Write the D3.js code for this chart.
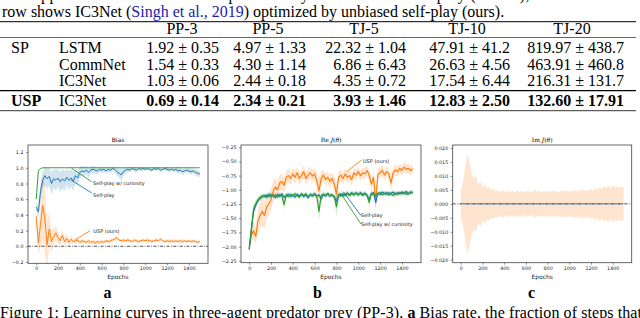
<!DOCTYPE html>
<html>
<head>
<meta charset="utf-8">
<script src="https://cdn.jsdelivr.net/npm/d3@7"></script>
<style>
  body { margin: 0; background: #fff; }
  svg { display: block; }
</style>
</head>
<body>
<script>
// ---------- table data ----------
const tableHeader = ["PP-3", "PP-5", "TJ-5", "TJ-10", "TJ-20"];
const rowGroups = ["SP", "", "", "USP"];
const rowModels = ["LSTM", "CommNet", "IC3Net", "IC3Net"];
const lstmScores = ["1.92 ± 0.35", "4.97 ± 1.33", "22.32 ± 1.04", "47.91 ± 41.2", "819.97 ± 438.7"];
const commnetScores = ["1.54 ± 0.33", "4.30 ± 1.14", "6.86 ± 6.43", "26.63 ± 4.56", "463.91 ± 460.8"];
const ic3netScores = ["1.03 ± 0.06", "2.44 ± 0.18", "4.35 ± 0.72", "17.54 ± 6.44", "216.31 ± 131.7"];
const uspScores = ["0.69 ± 0.14", "2.34 ± 0.21", "3.93 ± 1.46", "12.83 ± 2.50", "132.60 ± 17.91"];

// ---------- learning curves (every 20 epochs) ----------
const epochs = [
  0, 20, 40, 60, 80, 100, 120, 140, 160, 180,
  200, 220, 240, 260, 280, 300, 320, 340, 360, 380,
  400, 420, 440, 460, 480, 500, 520, 540, 560, 580,
  600, 620, 640, 660, 680, 700, 720, 740, 760, 780,
  800, 820, 840, 860, 880, 900, 920, 940, 960, 980,
  1000, 1020, 1040, 1060, 1080, 1100, 1120, 1140, 1160, 1180,
  1200, 1220, 1240, 1260, 1280, 1300, 1320, 1340, 1360, 1380,
  1400, 1420, 1440, 1460, 1480, 1500];
const xTicks = [0, 200, 400, 600, 800, 1000, 1200, 1400];

// a: bias
const biasSelfPlay = [
  0.50, 0.44, 0.70, 0.84, 0.90, 0.86, 0.89, 0.80, 0.86, 0.84,
  0.87, 0.82, 0.86, 0.83, 0.88, 0.84, 0.87, 0.83, 0.90, 0.87,
  0.94, 0.96, 0.95, 0.97, 0.94, 0.97, 0.98, 0.97, 0.96, 0.98,
  0.97, 0.98, 0.96, 0.98, 0.97, 0.99, 0.98, 0.95, 0.93, 0.91,
  0.95, 0.97, 0.98, 0.97, 0.99, 0.98, 0.97, 0.99, 0.98, 0.99,
  0.98, 0.99, 0.98, 0.97, 0.99, 0.98, 0.99, 0.97, 0.98, 0.99,
  0.98, 0.97, 0.98, 0.97, 0.98, 0.96, 0.97, 0.95, 0.96, 0.97,
  0.96, 0.95, 0.96, 0.94, 0.93, 0.92];
const biasSelfPlaySd = [
  0.05, 0.08, 0.12, 0.10, 0.12, 0.13, 0.12, 0.14, 0.12, 0.13,
  0.11, 0.13, 0.12, 0.13, 0.10, 0.12, 0.11, 0.13, 0.08, 0.09,
  0.08, 0.06, 0.07, 0.05, 0.07, 0.05, 0.04, 0.05, 0.04, 0.04,
  0.04, 0.03, 0.04, 0.03, 0.04, 0.03, 0.03, 0.05, 0.06, 0.07,
  0.05, 0.04, 0.03, 0.03, 0.02, 0.03, 0.03, 0.02, 0.02, 0.02,
  0.02, 0.02, 0.03, 0.02, 0.02, 0.02, 0.02, 0.03, 0.02, 0.02,
  0.03, 0.03, 0.02, 0.03, 0.03, 0.04, 0.03, 0.04, 0.03, 0.03,
  0.04, 0.04, 0.03, 0.04, 0.04, 0.04];
const biasCuriosity = [
  0.60, 0.96, 0.99, 1.00, 1.00, 1.00, 1.00, 1.00, 1.00, 1.00,
  1.00, 1.00, 1.00, 1.00, 1.00, 1.00, 1.00, 1.00, 1.00, 1.00,
  1.00, 1.00, 1.00, 1.00, 1.00, 1.00, 1.00, 1.00, 1.00, 1.00,
  1.00, 1.00, 1.00, 1.00, 1.00, 1.00, 1.00, 1.00, 1.00, 1.00,
  1.00, 1.00, 1.00, 1.00, 1.00, 1.00, 1.00, 1.00, 1.00, 1.00,
  1.00, 1.00, 1.00, 1.00, 1.00, 1.00, 1.00, 1.00, 1.00, 1.00,
  1.00, 1.00, 1.00, 1.00, 1.00, 1.00, 1.00, 1.00, 1.00, 1.00,
  1.00, 1.00, 1.00, 1.00, 1.00, 1.00];
const biasUSP = [
  0.38, 0.04, 0.28, 0.52, 0.34, 0.02, 0.22, 0.06, 0.12, 0.17,
  0.11, 0.07, 0.14, 0.06, 0.10, 0.05, 0.09, 0.06, 0.07, 0.08,
  0.05, 0.07, 0.06, 0.05, 0.07, 0.05, 0.06, 0.04, 0.06, 0.05,
  0.06, 0.05, 0.07, 0.06, 0.07, 0.08, 0.09, 0.11, 0.08, 0.07,
  0.08, 0.07, 0.08, 0.07, 0.06, 0.08, 0.07, 0.06, 0.07, 0.08,
  0.07, 0.08, 0.07, 0.06, 0.07, 0.08, 0.07, 0.09, 0.07, 0.06,
  0.07, 0.06, 0.07, 0.06, 0.07, 0.06, 0.07, 0.06, 0.07, 0.06,
  0.07, 0.06, 0.07, 0.06, 0.05, 0.06];
const biasUSPSd = [
  0.06, 0.14, 0.30, 0.42, 0.45, 0.30, 0.22, 0.15, 0.10, 0.09,
  0.08, 0.06, 0.06, 0.05, 0.05, 0.04, 0.04, 0.03, 0.03, 0.03,
  0.02, 0.03, 0.02, 0.02, 0.03, 0.02, 0.02, 0.03, 0.02, 0.02,
  0.02, 0.03, 0.02, 0.02, 0.03, 0.02, 0.03, 0.03, 0.02, 0.02,
  0.02, 0.02, 0.03, 0.02, 0.02, 0.02, 0.03, 0.02, 0.02, 0.02,
  0.02, 0.03, 0.02, 0.02, 0.02, 0.03, 0.02, 0.02, 0.02, 0.02,
  0.02, 0.02, 0.03, 0.02, 0.02, 0.02, 0.02, 0.03, 0.02, 0.02,
  0.02, 0.02, 0.02, 0.02, 0.02, 0.02];

// b: real part of J
const reSelfPlay = [
  -2.05, -1.72, -1.38, -1.27, -1.19, -1.15, -1.12, -1.10, -1.13, -1.08,
  -1.12, -1.09, -1.14, -1.08, -1.12, -1.07, -1.13, -1.10, -1.08, -1.12,
  -1.09, -1.13, -1.08, -1.11, -1.07, -1.12, -1.09, -1.14, -1.08, -1.10,
  -1.07, -1.11, -1.09, -1.16, -1.08, -1.10, -1.07, -1.11, -1.09, -1.13,
  -1.20, -1.08, -1.11, -1.07, -1.10, -1.06, -1.09, -1.05, -1.08, -1.06,
  -1.09, -1.05, -1.08, -1.06, -1.10, -1.18, -1.07, -1.05, -1.22, -1.06,
  -1.08, -1.04, -1.07, -1.05, -1.09, -1.06, -1.04, -1.08, -1.05, -1.07,
  -1.04, -1.06, -1.03, -1.07, -1.05, -1.04];
const reSelfPlaySd = [
  0.05, 0.08, 0.08, 0.06, 0.05, 0.05, 0.04, 0.04, 0.04, 0.04,
  0.04, 0.04, 0.04, 0.04, 0.04, 0.04, 0.04, 0.04, 0.04, 0.04,
  0.04, 0.04, 0.04, 0.04, 0.04, 0.04, 0.04, 0.04, 0.04, 0.04,
  0.04, 0.04, 0.04, 0.06, 0.04, 0.04, 0.04, 0.04, 0.04, 0.04,
  0.08, 0.04, 0.04, 0.04, 0.04, 0.04, 0.04, 0.04, 0.04, 0.04,
  0.04, 0.04, 0.04, 0.04, 0.04, 0.08, 0.04, 0.04, 0.10, 0.04,
  0.04, 0.04, 0.04, 0.04, 0.04, 0.04, 0.04, 0.04, 0.04, 0.04,
  0.04, 0.04, 0.04, 0.04, 0.04, 0.04];
const reCuriosity = [
  -2.05, -1.68, -1.34, -1.25, -1.18, -1.14, -1.11, -1.12, -1.09, -1.12,
  -1.08, -1.11, -1.09, -1.13, -1.08, -1.11, -1.26, -1.09, -1.12, -1.08,
  -1.11, -1.07, -1.10, -1.13, -1.08, -1.10, -1.07, -1.12, -1.09, -1.11,
  -1.08, -1.12, -1.38, -1.10, -1.08, -1.11, -1.07, -1.10, -1.09, -1.12,
  -1.30, -1.10, -1.07, -1.11, -1.08, -1.06, -1.10, -1.07, -1.09, -1.05,
  -1.08, -1.06, -1.10, -1.07, -1.09, -1.22, -1.06, -1.08, -1.10, -1.07,
  -1.05, -1.09, -1.06, -1.08, -1.05, -1.07, -1.10, -1.06, -1.08, -1.05,
  -1.07, -1.05, -1.08, -1.06, -1.04, -1.06];
const reCuriositySd = [
  0.05, 0.08, 0.08, 0.06, 0.05, 0.05, 0.04, 0.04, 0.04, 0.04,
  0.04, 0.04, 0.04, 0.04, 0.04, 0.04, 0.10, 0.04, 0.04, 0.04,
  0.04, 0.04, 0.04, 0.04, 0.04, 0.04, 0.04, 0.04, 0.04, 0.04,
  0.04, 0.05, 0.16, 0.05, 0.04, 0.04, 0.04, 0.04, 0.04, 0.04,
  0.18, 0.05, 0.04, 0.04, 0.04, 0.04, 0.04, 0.04, 0.04, 0.04,
  0.04, 0.04, 0.04, 0.04, 0.04, 0.10, 0.04, 0.04, 0.04, 0.04,
  0.04, 0.04, 0.04, 0.04, 0.04, 0.04, 0.04, 0.04, 0.04, 0.04,
  0.04, 0.04, 0.04, 0.04, 0.04, 0.04];
const reUSP = [
  -2.00, -1.80, -1.72, -1.82, -1.55, -1.45, -1.38, -1.45, -1.30, -1.25,
  -1.18, -1.02, -0.95, -1.00, -0.88, -0.85, -0.92, -0.78, -0.75, -0.80,
  -0.72, -0.78, -0.70, -0.80, -0.75, -0.68, -0.80, -0.74, -0.70, -0.76,
  -0.72, -0.85, -1.02, -0.80, -0.74, -0.82, -0.78, -0.85, -0.80, -0.90,
  -1.08, -0.78, -0.74, -0.80, -0.72, -0.78, -0.75, -0.82, -0.70, -0.74,
  -0.68, -0.75, -0.70, -0.72, -0.66, -0.74, -0.90, -0.78, -1.20, -0.72,
  -0.70, -0.66, -0.74, -0.68, -0.72, -0.88, -0.70, -0.65, -0.68, -0.62,
  -0.66, -0.60, -0.64, -0.62, -0.66, -0.63];
const reUSPSd = [
  0.08, 0.12, 0.15, 0.15, 0.20, 0.22, 0.25, 0.25, 0.22, 0.20,
  0.20, 0.18, 0.16, 0.15, 0.14, 0.14, 0.13, 0.12, 0.12, 0.12,
  0.10, 0.12, 0.10, 0.11, 0.10, 0.12, 0.10, 0.11, 0.10, 0.12,
  0.10, 0.14, 0.25, 0.12, 0.10, 0.11, 0.10, 0.12, 0.10, 0.13,
  0.20, 0.11, 0.10, 0.10, 0.09, 0.10, 0.09, 0.11, 0.09, 0.10,
  0.09, 0.10, 0.09, 0.10, 0.09, 0.10, 0.14, 0.10, 0.18, 0.10,
  0.09, 0.10, 0.09, 0.10, 0.09, 0.14, 0.09, 0.10, 0.08, 0.09,
  0.08, 0.09, 0.08, 0.09, 0.08, 0.08];

// c: imaginary part of J
const imSelfPlay = [
  0, 0, 0, 0, 0, 0, 0, 0, 0, 0,
  0, 0, 0, 0, 0, 0, 0, 0, 0, 0,
  0, 0, 0, 0, 0, 0, 0, 0, 0, 0,
  0, 0, 0, 0, 0, 0, 0, 0, 0, 0,
  0, 0, 0, 0, 0, 0, 0, 0, 0, 0,
  0, 0, 0, 0, 0, 0, 0, 0, 0, 0,
  0, 0, 0, 0, 0, 0, 0, 0, 0, 0,
  0, 0, 0, 0, 0, 0];
const imUSPSd = [
  0.005, 0.008, 0.013, 0.018, 0.015, 0.011, 0.009, 0.010, 0.007, 0.008,
  0.006, 0.007, 0.0055, 0.006, 0.005, 0.0055, 0.0045, 0.005, 0.0042, 0.005,
  0.0045, 0.004, 0.005, 0.0042, 0.0046, 0.004, 0.005, 0.0043, 0.0047, 0.004,
  0.0048, 0.0042, 0.0046, 0.004, 0.0052, 0.0044, 0.0048, 0.0041, 0.0046, 0.0043,
  0.0047, 0.0042, 0.005, 0.0044, 0.0046, 0.0042, 0.0048, 0.0045, 0.005, 0.0044,
  0.0048, 0.0043, 0.0052, 0.0046, 0.005, 0.0045, 0.0053, 0.0047, 0.0051, 0.0046,
  0.0054, 0.0048, 0.0058, 0.005, 0.0062, 0.0052, 0.0065, 0.0055, 0.0068, 0.0056,
  0.0066, 0.0058, 0.0064, 0.0057, 0.0062, 0.006];

// ---------- page ----------
const serif = "'Liberation Serif', 'Times New Roman', serif";
const sans = "'DejaVu Sans', sans-serif";
const blue = "#1f77b4", orange = "#ff7f0e", green = "#2ca02c";

const svg = d3.select("body").append("svg")
  .attr("width", 640).attr("height", 318)
  .style("background", "#fff");

// caption line cut off at the top (only descenders show)
svg.append("text")
  .attr("x", 2).attr("y", -0.5)
  .attr("font-family", serif).attr("font-size", 16)
  .attr("textLength", 634).attr("lengthAdjust", "spacing")
  .text("The upper rows show baselines optimized by conventional self-play (biased), and the bottom");

const capLine = svg.append("text")
  .attr("x", 2).attr("y", 17)
  .attr("font-family", serif).attr("font-size", 16);
capLine.append("tspan").text("row shows IC3Net (");
capLine.append("tspan").attr("fill", "#1c1ca8").text("Singh et al., 2019");
capLine.append("tspan").text(") optimized by unbiased self-play (ours).");

// table
const scoreRows = [lstmScores, commnetScores, ic3netScores, uspScores];
const colRight = d3.scaleOrdinal().domain(tableHeader).range([219, 306, 406, 510, 624]);
const headX = d3.scaleOrdinal().domain(tableHeader).range([182, 268, 364, 467, 572]);
const rowY = d3.scaleOrdinal().domain([0, 1, 2, 3]).range([53.3, 70, 86.3, 106]);

const rules = [[21.7, 1.0], [37.5, 0.6], [90.7, 1.2], [110.7, 0.8]];
svg.selectAll("line.rule").data(rules).join("line")
  .attr("class", "rule")
  .attr("x1", 0).attr("x2", 636)
  .attr("y1", d => d[0]).attr("y2", d => d[0])
  .attr("stroke", "#000").attr("stroke-width", d => d[1]);

const table = svg.append("g").attr("font-family", serif).attr("font-size", 16).attr("fill", "#000");
table.selectAll("text.head").data(tableHeader).join("text")
  .attr("class", "head")
  .attr("x", d => headX(d)).attr("y", 34.3)
  .attr("text-anchor", "middle").text(d => d);
table.selectAll("text.group").data(rowGroups).join("text")
  .attr("class", "group")
  .attr("x", 11).attr("y", (d, i) => rowY(i))
  .attr("font-weight", (d, i) => i === 3 ? "bold" : "normal")
  .text(d => d);
table.selectAll("text.model").data(rowModels).join("text")
  .attr("class", "model")
  .attr("x", 59).attr("y", (d, i) => rowY(i))
  .text(d => d);
scoreRows.forEach((row, r) => {
  table.selectAll("text.s" + r).data(row).join("text")
    .attr("class", "s" + r)
    .attr("x", (d, i) => colRight(tableHeader[i])).attr("y", rowY(r))
    .attr("text-anchor", "end")
    .attr("font-weight", r === 3 ? "bold" : "normal")
    .text(d => d);
});

// ---------- charts ----------
function panel(o) {
  const g = svg.append("g");
  const x = d3.scaleLinear().domain([-75, 1575]).range([o.left, o.left + o.w]);
  const y = d3.scaleLinear().domain(o.yDomain).range([o.top + o.h, o.top]);

  svg.append("clipPath").attr("id", "clip-" + o.id)
    .append("rect").attr("x", o.left).attr("y", o.top).attr("width", o.w).attr("height", o.h);
  const plot = g.append("g").attr("clip-path", `url(#clip-${o.id})`);

  o.bands.forEach(b => {
    plot.append("path").datum(epochs)
      .attr("fill", b.color).attr("fill-opacity", 0.2)
      .attr("d", d3.area()
        .x(d => x(d))
        .y0((d, i) => y(b.mean[i] - b.sd[i]))
        .y1((d, i) => y(b.mean[i] + b.sd[i])));
  });

  if (o.zeroLine) {
    plot.append("line")
      .attr("x1", o.left).attr("x2", o.left + o.w)
      .attr("y1", y(0)).attr("y2", y(0))
      .attr("stroke", "#222").attr("stroke-width", 0.8)
      .attr("stroke-dasharray", "3,1.4,0.8,1.4");
  }

  o.lines.forEach(l => {
    plot.append("path").datum(epochs)
      .attr("fill", "none").attr("stroke", l.color)
      .attr("stroke-width", l.width || 1)
      .attr("stroke-linejoin", "round")
      .attr("d", d3.line().x(d => x(d)).y((d, i) => y(l.values[i])));
  });

  (o.notes || []).forEach(n => {
    g.append("line")
      .attr("x1", x(n.from[0])).attr("y1", y(n.from[1]))
      .attr("x2", x(n.to[0])).attr("y2", y(n.to[1]))
      .attr("stroke", n.color).attr("stroke-width", 0.9);
    g.append("text")
      .attr("x", x(n.at[0])).attr("y", y(n.at[1]))
      .attr("font-family", sans).attr("font-size", 5).attr("fill", "#222")
      .text(n.label);
  });

  g.append("rect")
    .attr("x", o.left).attr("y", o.top).attr("width", o.w).attr("height", o.h)
    .attr("fill", "none").attr("stroke", "#444").attr("stroke-width", 0.8);

  const xa = g.append("g").attr("transform", `translate(0,${o.top + o.h})`)
    .call(d3.axisBottom(x).tickValues(xTicks).tickSize(2).tickPadding(1.5).tickFormat(d3.format("d")));
  const ya = g.append("g").attr("transform", `translate(${o.left},0)`)
    .call(d3.axisLeft(y).tickValues(o.yTicks).tickSize(2).tickPadding(2.5).tickFormat(d3.format(o.fmt)));
  [xa, ya].forEach(a => {
    a.select(".domain").remove();
    a.attr("font-family", sans).attr("font-size", 4.8);
    a.selectAll("line").attr("stroke", "#444").attr("stroke-width", 0.6);
    a.selectAll("text").attr("fill", "#222");
  });

  const title = g.append("text")
    .attr("x", o.left + o.w / 2).attr("y", 141.5)
    .attr("text-anchor", "middle").attr("font-size", 6)
    .attr("fill", "#000").style("fill", "#000");
  if (o.title === "Bias") {
    title.attr("font-family", sans).text("Bias");
  } else {
    title.attr("font-family", "'DejaVu Serif', serif");
    title.append("tspan").text(o.title + " ");
    title.append("tspan").attr("font-style", "italic").text("J");
    title.append("tspan").text("(");
    title.append("tspan").attr("font-style", "italic").text("θ");
    title.append("tspan").text(")");
  }

  g.append("text")
    .attr("x", o.left + o.w / 2).attr("y", 279)
    .attr("text-anchor", "middle")
    .attr("font-family", sans).attr("font-size", 6).attr("fill", "#222")
    .text("Epochs");

  g.append("text")
    .attr("x", o.letterX).attr("y", 297.5)
    .attr("text-anchor", "middle")
    .attr("font-family", serif).attr("font-weight", "bold").attr("font-size", 16)
    .text(o.letter);
}

panel({
  id: "a", left: 28, top: 145, w: 180, h: 118.3,
  yDomain: [-0.217, 1.29], yTicks: [-0.2, 0, 0.2, 0.4, 0.6, 0.8, 1.0, 1.2], fmt: ".1f",
  title: "Bias", letter: "a", letterX: 107.5, zeroLine: true,
  bands: [
    { mean: biasUSP, sd: biasUSPSd, color: orange },
    { mean: biasSelfPlay, sd: biasSelfPlaySd, color: blue }
  ],
  lines: [
    { values: biasSelfPlay, color: blue },
    { values: biasCuriosity, color: green },
    { values: biasUSP, color: orange }
  ],
  notes: [
    { label: "Self-play w/ curiosity", color: green, from: [325, 0.993], to: [509, 0.822], at: [521, 0.78] },
    { label: "Self-play", color: blue, from: [319, 0.844], to: [509, 0.679], at: [521, 0.63] },
    { label: "USP (ours)", color: orange, from: [356, 0.08], to: [493, 0.198], at: [524, 0.163] }
  ]
});

panel({
  id: "b", left: 241, top: 145, w: 180, h: 117.7,
  yDomain: [-2.285, -0.21], yTicks: [-2.25, -2.0, -1.75, -1.5, -1.25, -1.0, -0.75, -0.5, -0.25], fmt: ".2f",
  title: "Re", letter: "b", letterX: 317.5,
  bands: [
    { mean: reUSP, sd: reUSPSd, color: orange },
    { mean: reSelfPlay, sd: reSelfPlaySd, color: blue },
    { mean: reCuriosity, sd: reCuriositySd, color: green }
  ],
  lines: [
    { values: reUSP, color: orange, width: 1.2 },
    { values: reSelfPlay, color: blue, width: 1.2 },
    { values: reCuriosity, color: green, width: 1.2 }
  ],
  notes: [
    { label: "USP (ours)", color: orange, from: [894, -0.681], to: [1031, -0.474], at: [1043, -0.536] },
    { label: "Self-play", color: blue, from: [863, -1.033], to: [1025, -1.456], at: [1025, -1.476] },
    { label: "Self-play w/ curiosity", color: green, from: [848, -1.091], to: [1025, -1.603], at: [1025, -1.64] }
  ]
});

panel({
  id: "c", left: 452.7, top: 145, w: 179, h: 117.7,
  yDomain: [-0.0211, 0.0211], yTicks: [-0.02, -0.015, -0.01, -0.005, 0, 0.005, 0.01, 0.015, 0.02], fmt: ".3f",
  title: "Im", letter: "c", letterX: 531.5, zeroLine: true,
  bands: [
    { mean: imSelfPlay, sd: imUSPSd, color: orange }
  ],
  lines: [
    { values: imSelfPlay, color: blue, width: 0.8 }
  ]
});

// figure caption, cut off at the bottom
const fig = svg.append("text")
  .attr("x", 0).attr("y", 318)
  .attr("font-family", serif).attr("font-size", 16)
  .attr("textLength", 642).attr("lengthAdjust", "spacing");
fig.append("tspan").text("Figure 1: Learning curves in three-agent predator prey (PP-3). ");
fig.append("tspan").attr("font-weight", "bold").text("a");
fig.append("tspan").text(" Bias rate, the fraction of steps that");
</script>
</body>
</html>
